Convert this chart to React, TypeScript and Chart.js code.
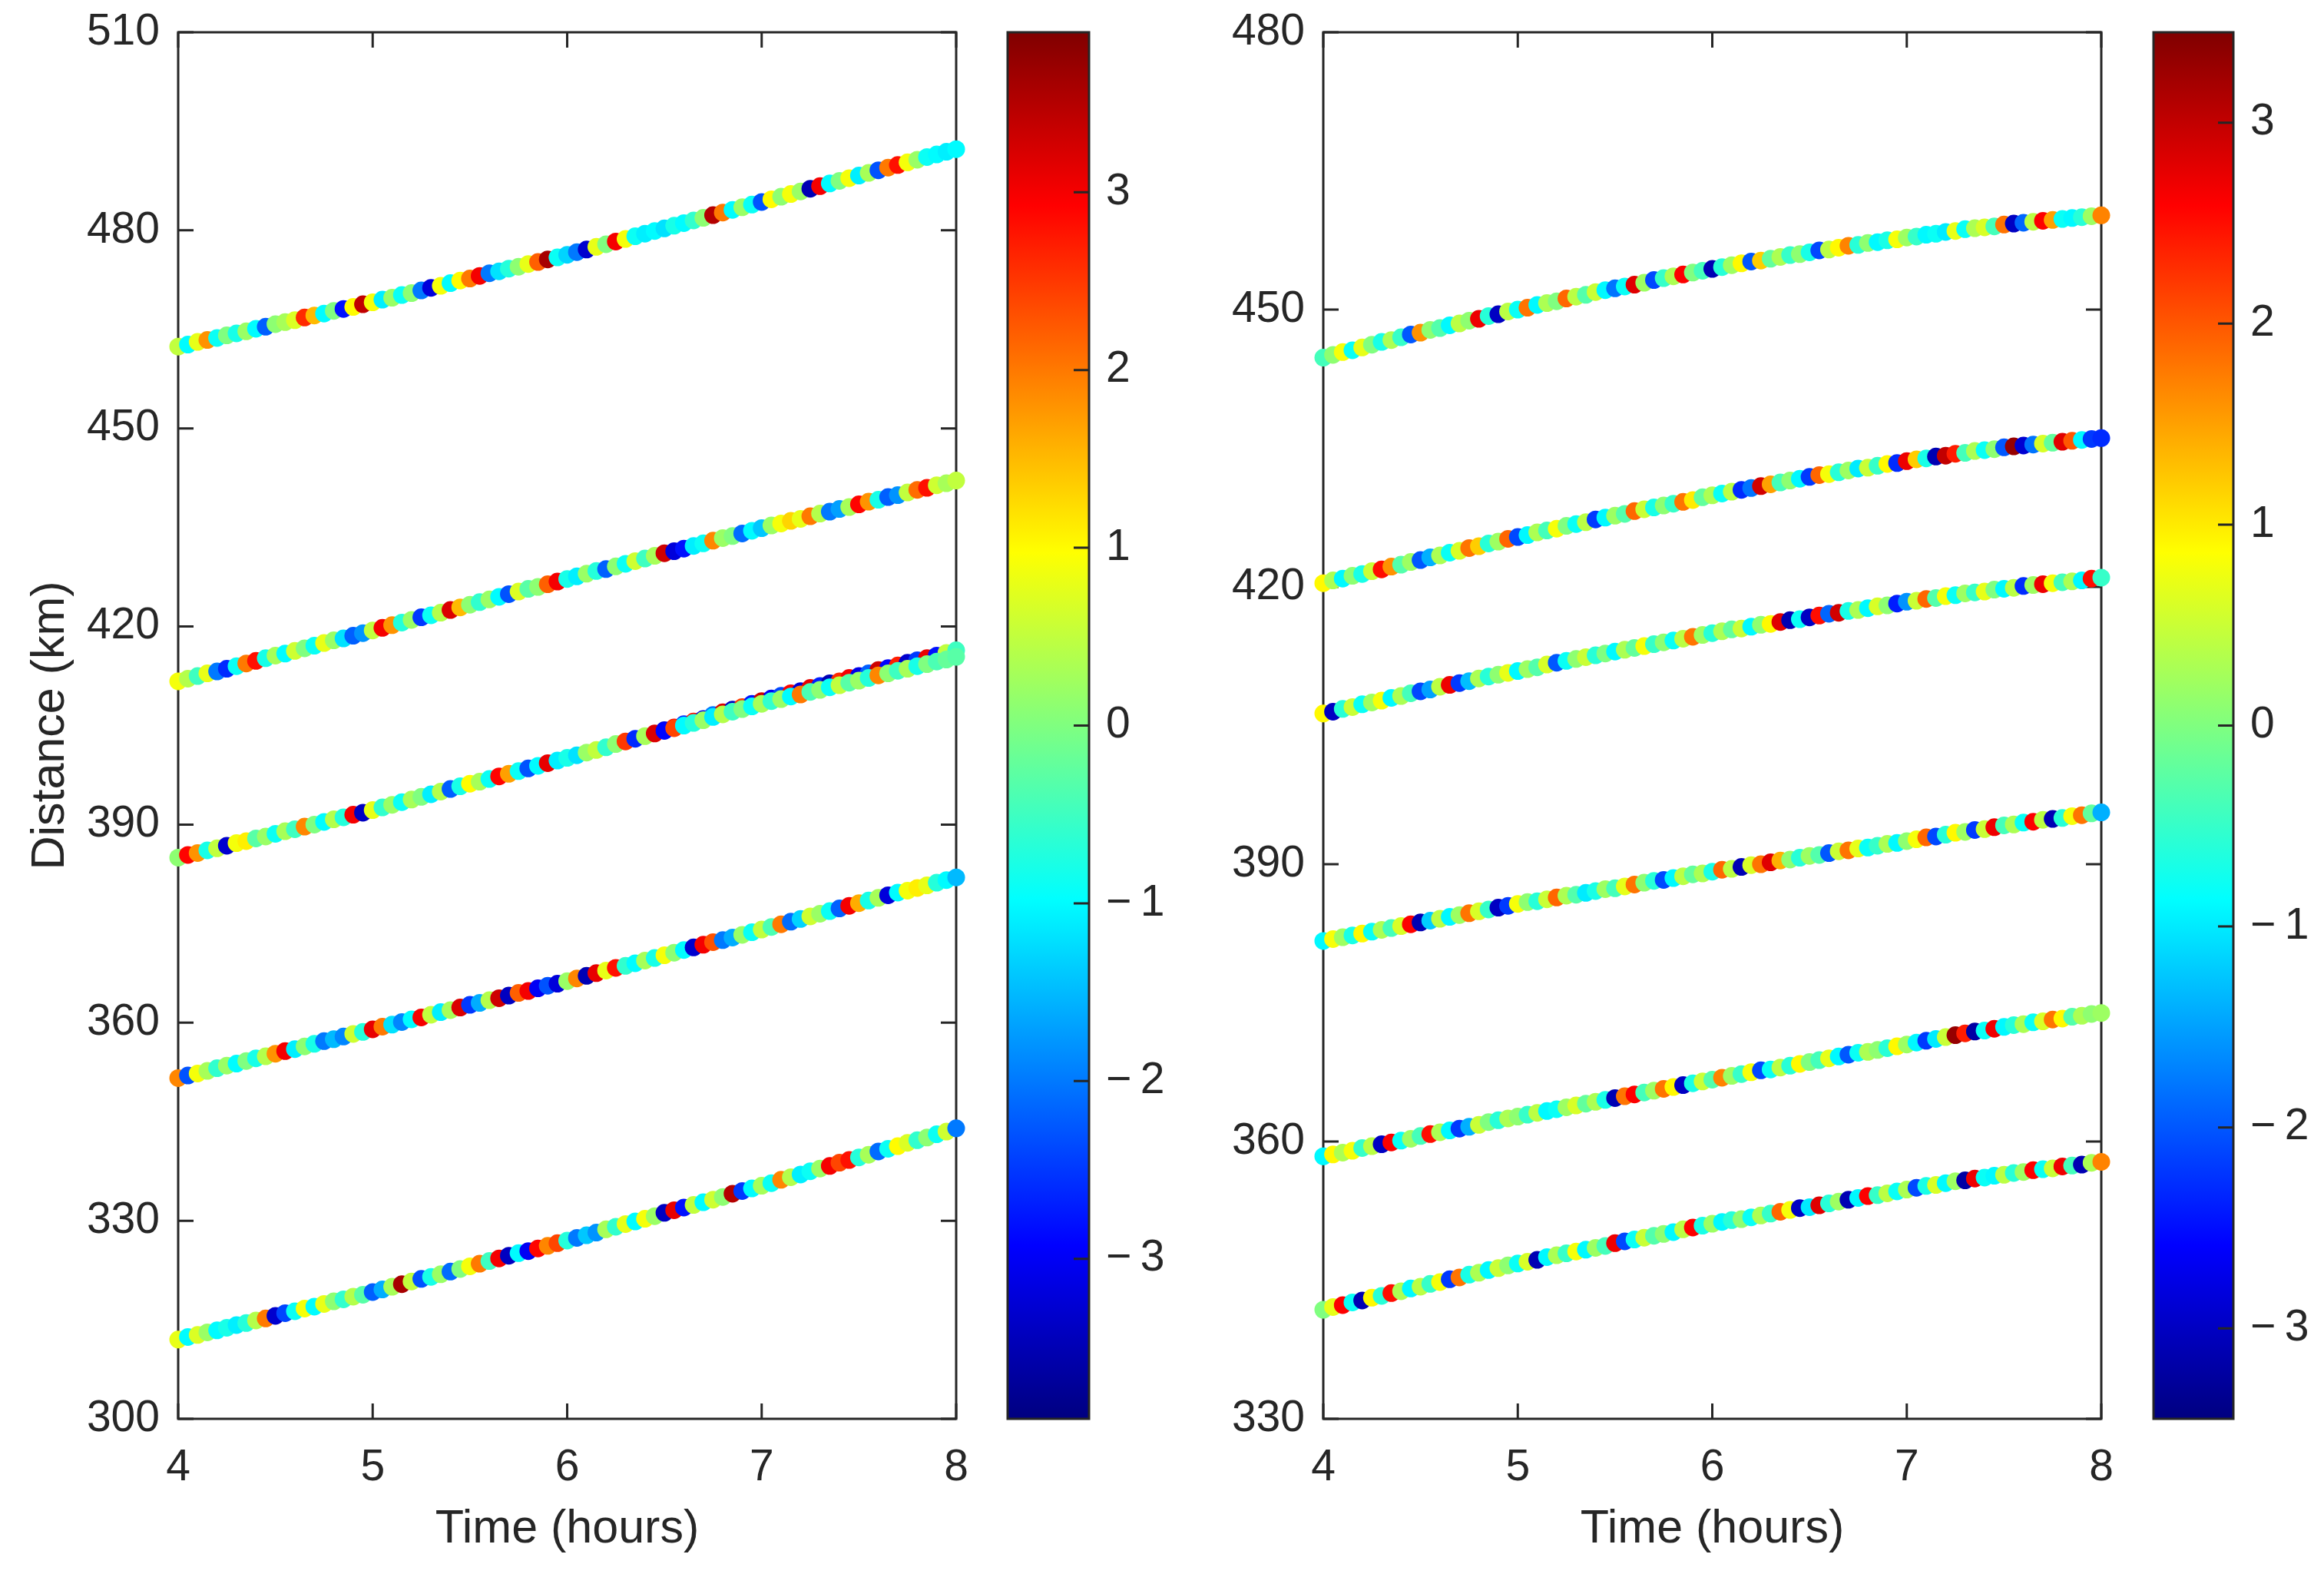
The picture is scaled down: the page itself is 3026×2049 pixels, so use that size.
import React, { useEffect, useRef } from 'react';
import { Chart, registerables } from 'chart.js';

Chart.register(...registerables);

const FONT = '"Liberation Sans", Arial, Helvetica, sans-serif';
const INK = '#262626';

// ---------- shared sample times (hours) ----------
const TIME = [4,4.05,4.1,4.15,4.2,4.25,4.3,4.35,4.4,4.45,4.5,4.55,4.6,4.65,4.7,4.75,4.8,4.85,4.9,4.95,
  5,5.05,5.1,5.15,5.2,5.25,5.3,5.35,5.4,5.45,5.5,5.55,5.6,5.65,5.7,5.75,5.8,5.85,5.9,5.95,
  6,6.05,6.1,6.15,6.2,6.25,6.3,6.35,6.4,6.45,6.5,6.55,6.6,6.65,6.7,6.75,6.8,6.85,6.9,6.95,
  7,7.05,7.1,7.15,7.2,7.25,7.3,7.35,7.4,7.45,7.5,7.55,7.6,7.65,7.7,7.75,7.8,7.85,7.9,7.95,8];

const X_TICKS = [4, 5, 6, 7, 8];
const LEFT_Y_TICKS = [300, 330, 360, 390, 420, 450, 480, 510];
const RIGHT_Y_TICKS = [330, 360, 390, 420, 450, 480];
const CB_TICKS = [-3, -2, -1, 0, 1, 2, 3];
const LEFT_CB_LIMIT = 3.9;
const RIGHT_CB_LIMIT = 3.45;

// ---------- left panel: distances (km) ----------
const A_DIST = [462.4,462.7,463.1,463.4,463.7,464.1,464.4,464.7,465.1,465.4,465.8,466.1,466.4,466.8,467.1,467.4,467.8,468.1,468.4,468.8,469.1,
  469.5,469.8,470.2,470.5,470.9,471.3,471.6,472.0,472.4,472.7,473.1,473.5,473.8,474.2,474.5,474.9,475.2,475.6,475.9,476.3,
  476.7,477.1,477.5,477.9,478.3,478.7,479.1,479.5,479.9,480.3,480.7,481.1,481.5,481.9,482.3,482.7,483.1,483.5,483.9,484.3,
  484.7,485.1,485.5,485.9,486.3,486.7,487.1,487.5,487.9,488.3,488.7,489.1,489.5,489.9,490.3,490.7,491.1,491.5,491.9,492.3];
const B_DIST = [411.7,412.1,412.5,412.9,413.2,413.6,414.0,414.4,414.8,415.2,415.6,415.9,416.3,416.7,417.1,417.5,417.9,418.2,418.6,419.0,419.4,
  419.8,420.2,420.6,421.0,421.4,421.7,422.1,422.5,422.9,423.3,423.7,424.1,424.5,424.9,425.3,425.7,426.0,426.4,426.8,427.2,
  427.6,428.0,428.4,428.7,429.1,429.5,429.9,430.3,430.7,431.1,431.4,431.8,432.2,432.6,433.0,433.4,433.7,434.1,434.5,434.9,
  435.3,435.6,436.0,436.3,436.7,437.1,437.4,437.8,438.1,438.5,438.9,439.2,439.6,439.9,440.3,440.7,441.0,441.4,441.7,442.1];
const C_DIST = [385.0,385.4,385.7,386.1,386.4,386.8,387.2,387.5,387.9,388.2,388.6,389.0,389.3,389.7,390.0,390.4,390.8,391.1,391.5,391.8,392.2,
  392.6,393.0,393.4,393.8,394.2,394.6,395.0,395.4,395.8,396.2,396.5,396.9,397.3,397.7,398.1,398.5,398.9,399.3,399.7,400.1,
  400.5,400.9,401.3,401.7,402.2,402.6,403.0,403.4,403.8,404.2,404.6,405.0,405.4,405.8,406.3,406.7,407.1,407.5,407.9,408.3,
  408.7,409.0,409.4,409.7,410.1,410.4,410.8,411.1,411.5,411.8,412.2,412.6,412.9,413.3,413.6,414.0,414.3,414.7,415.0,415.4];
const C2_TIME = TIME.slice(50);
const C2_DIST = [404.3,404.7,405.2,405.6,406.0,406.6,407.0,407.4,407.8,408.3,408.7,409.1,409.5,409.9,410.2,410.7,411.0,411.4,411.7,412.2,
  412.5,412.9,413.4,413.7,414.1,414.5,414.9,415.2,415.6,416.0,416.4];
const D_DIST = [351.6,352.0,352.3,352.7,353.1,353.5,353.8,354.2,354.6,354.9,355.3,355.7,356.0,356.4,356.8,357.2,357.5,357.9,358.3,358.6,359.0,
  359.4,359.7,360.1,360.5,360.8,361.2,361.6,361.9,362.3,362.7,363.0,363.4,363.7,364.1,364.5,364.8,365.2,365.6,365.9,366.3,
  366.7,367.1,367.5,367.9,368.3,368.6,369.0,369.4,369.8,370.2,370.6,371.0,371.4,371.8,372.2,372.5,372.9,373.3,373.7,374.1,
  374.5,374.9,375.3,375.7,376.1,376.5,376.9,377.3,377.7,378.1,378.5,378.9,379.3,379.7,380.0,380.4,380.8,381.2,381.6,382.0];
const E_DIST = [312.0,312.4,312.7,313.1,313.4,313.8,314.2,314.5,314.9,315.2,315.6,316.0,316.3,316.7,317.0,317.4,317.8,318.1,318.5,318.8,319.2,
  319.6,320.0,320.4,320.8,321.2,321.5,321.9,322.3,322.7,323.1,323.5,323.9,324.3,324.7,325.1,325.4,325.8,326.2,326.6,327.0,
  327.4,327.8,328.2,328.7,329.1,329.5,329.9,330.3,330.7,331.2,331.6,332.0,332.4,332.8,333.2,333.6,334.1,334.5,334.9,335.3,
  335.7,336.2,336.6,337.0,337.5,337.9,338.3,338.8,339.2,339.6,340.0,340.5,340.9,341.3,341.8,342.2,342.6,343.1,343.5,344.0];

// ---------- left panel: colour values ----------
const A_COL = [0.5,-1.0,0.8,1.8,-0.9,0.0,-0.8,0.2,-1.0,-2.2,
  0.1,0.3,0.7,2.6,1.5,-1.0,0.0,-2.8,1.0,3.4,
  0.9,-1.1,0.2,-0.9,0.1,-2.0,-3.2,0.9,-1.0,1.0,
  2.0,3.0,-2.0,-1.2,-0.7,0.1,0.8,2.2,3.6,-0.9,
  -1.3,-2.0,-3.3,0.8,0.0,3.0,0.9,-0.9,-1.1,-1.0,
  -1.2,-0.8,-1.0,-0.6,0.1,3.5,2.0,-1.0,0.2,-0.9,
  -2.3,1.0,0.1,0.9,0.2,-3.5,3.0,-1.0,0.0,0.9,
  -1.1,0.3,-2.3,2.0,2.8,0.9,0.2,-0.9,-1.0,-1.1,
  -1.0];
const B_COL = [0.9,0.4,-0.5,0.8,-2.0,-2.6,-0.9,2.0,2.8,-0.8,
  0.3,-1.0,0.6,0.0,-0.9,0.8,0.2,-1.2,-2.2,-1.8,
  0.5,3.0,1.8,-0.7,0.2,-2.5,-0.9,0.4,3.2,1.5,
  0.1,-0.6,0.2,-1.0,-2.3,0.7,-0.3,0.1,2.2,3.0,
  -0.8,-1.1,0.2,-0.7,-2.2,0.1,-0.9,0.6,-0.5,0.3,
  3.3,-3.2,-2.8,-1.1,-0.9,1.9,0.2,0.0,-2.1,-1.0,
  -1.4,0.2,0.9,1.3,0.8,2.0,0.4,-2.0,-1.7,0.3,
  2.9,1.8,-0.8,-2.2,-1.8,0.5,2.1,2.8,0.6,0.3,
  0.5];
const C_COL = [0.1,2.9,1.8,-0.8,0.5,-3.3,0.9,1.1,-0.3,0.2,
  -0.9,0.3,-0.5,1.9,0.0,-1.0,0.4,-0.7,3.0,-3.4,
  0.8,-0.6,0.2,-0.9,0.3,0.0,-1.1,0.4,-2.2,-0.8,
  1.0,0.3,-0.9,2.9,1.7,-0.9,-2.3,-1.0,3.1,-1.1,
  -0.8,-1.2,0.2,0.5,-0.6,0.1,2.5,-2.6,0.3,3.2,
  -2.9,2.4,-1.0,-0.7,0.2,-1.1,0.4,-0.5,0.0,-0.9,
  0.3,-0.6,0.2,-1.0,2.0,-0.4,0.1,-0.9,0.5,-0.3,
  0.2,-0.7,1.9,0.1,-0.5,0.3,-0.8,0.0,-0.4,-0.2,
  -0.3];
const C2_COL = [-3.3,3.0,-2.6,2.8,-3.1,-2.0,3.2,-3.4,2.5,-2.8,
  3.3,-3.0,-2.4,2.9,-3.2,3.1,-2.7,-3.5,2.6,3.0,
  -3.1,-2.2,3.3,-2.9,2.7,-3.3,-2.5,3.1,-2.8,0.5,
  -0.5];
const D_COL = [1.9,-2.3,0.9,0.3,-0.6,0.2,-1.0,0.0,-0.8,0.4,
  1.8,3.0,-1.1,0.1,-0.8,-2.0,-1.5,-1.9,0.6,-0.7,
  3.1,2.0,-1.2,-1.9,-1.0,3.0,0.5,-1.1,0.3,3.2,
  -2.5,-1.6,0.4,3.3,-3.4,2.2,3.0,-3.0,-2.3,-3.2,
  0.2,1.9,-3.5,3.1,0.8,2.8,-0.6,-1.0,0.3,-0.8,
  0.9,0.1,-1.0,-3.3,3.0,2.3,-2.0,-1.6,0.2,-0.9,
  0.5,-0.4,2.0,-2.1,-1.3,0.6,0.2,-0.9,-2.2,3.0,
  1.6,-0.8,0.3,-3.2,-1.0,0.9,1.1,0.8,-0.7,-1.0,
  -1.5];
const E_COL = [0.8,-1.0,0.7,0.2,-1.0,-0.8,-1.1,-0.7,0.4,2.0,
  -3.3,-2.4,-0.9,0.9,-1.0,0.8,0.1,-0.6,0.4,-0.3,
  -2.2,-1.6,0.3,3.6,0.5,-2.3,-0.8,0.2,-2.1,0.0,
  0.9,2.0,-0.5,3.0,-3.4,-1.0,-3.0,2.9,1.9,2.4,
  -0.7,-2.0,-1.4,-1.8,0.3,-0.6,0.8,-1.0,0.9,0.2,
  -3.4,3.1,-2.8,0.5,-1.0,0.6,0.1,3.5,-2.5,-1.0,
  0.3,-0.9,1.9,0.4,-1.1,-0.9,0.2,3.0,2.4,2.8,
  -0.7,0.3,-2.1,-0.9,1.0,0.7,-0.6,0.1,-0.9,0.6,
  -2.0];

// ---------- right panel: distances (km) ----------
const R1_DIST = [444.8,445.1,445.4,445.6,445.9,446.2,446.5,446.7,447.0,447.3,447.5,447.8,448.0,448.3,448.5,448.8,449.0,449.3,449.5,449.8,450.0,
  450.2,450.5,450.7,450.9,451.2,451.4,451.6,451.9,452.1,452.3,452.5,452.7,452.9,453.2,453.4,453.6,453.8,454.0,454.2,454.4,
  454.6,454.8,455.0,455.2,455.3,455.5,455.7,455.9,456.0,456.2,456.4,456.5,456.7,456.9,457.0,457.2,457.3,457.5,457.6,457.8,
  457.9,458.1,458.2,458.4,458.5,458.7,458.8,458.9,459.0,459.2,459.3,459.4,459.5,459.6,459.7,459.8,459.9,460.0,460.1,460.2];
const R2_DIST = [420.4,420.7,420.9,421.2,421.4,421.7,421.9,422.2,422.4,422.7,422.9,423.2,423.4,423.7,423.9,424.2,424.4,424.7,424.9,425.2,425.4,
  425.6,425.9,426.1,426.3,426.6,426.8,427.0,427.3,427.5,427.7,427.9,428.2,428.4,428.6,428.8,429.0,429.2,429.4,429.7,429.9,
  430.1,430.3,430.5,430.7,430.9,431.1,431.3,431.5,431.7,431.9,432.1,432.2,432.4,432.6,432.8,432.9,433.1,433.3,433.4,433.6,
  433.8,433.9,434.1,434.2,434.4,434.5,434.7,434.8,434.9,435.1,435.2,435.3,435.4,435.5,435.6,435.7,435.8,435.9,436.0,436.1];
const R3_DIST = [406.3,406.5,406.8,407.0,407.3,407.5,407.7,408.0,408.2,408.5,408.7,408.9,409.2,409.4,409.6,409.8,410.1,410.3,410.5,410.7,410.9,
  411.1,411.3,411.6,411.8,412.0,412.2,412.4,412.6,412.8,413.0,413.2,413.4,413.6,413.8,414.0,414.2,414.4,414.6,414.8,415.0,
  415.2,415.4,415.5,415.7,415.9,416.0,416.2,416.4,416.5,416.7,416.9,417.1,417.2,417.4,417.5,417.7,417.9,418.0,418.2,418.4,
  418.5,418.7,418.8,419.0,419.1,419.3,419.4,419.5,419.7,419.8,419.9,420.1,420.2,420.3,420.4,420.5,420.6,420.7,420.9,421.0];
const R4_DIST = [381.7,381.9,382.1,382.3,382.5,382.7,382.9,383.1,383.3,383.5,383.7,383.9,384.1,384.3,384.5,384.7,384.9,385.1,385.3,385.5,385.7,
  385.9,386.0,386.2,386.4,386.6,386.7,386.9,387.1,387.3,387.4,387.6,387.8,388.0,388.2,388.3,388.5,388.7,388.9,389.0,389.2,
  389.4,389.5,389.7,389.9,390.0,390.2,390.4,390.5,390.7,390.9,391.0,391.2,391.4,391.5,391.7,391.8,392.0,392.2,392.3,392.5,
  392.7,392.9,393.0,393.2,393.4,393.5,393.7,393.8,394.0,394.2,394.3,394.5,394.6,394.8,394.9,395.0,395.2,395.3,395.5,395.6];
const R5_DIST = [358.4,358.6,358.8,359.0,359.3,359.5,359.7,359.9,360.1,360.3,360.6,360.8,361.0,361.2,361.4,361.6,361.8,362.1,362.3,362.5,362.7,
  362.9,363.1,363.3,363.5,363.7,363.9,364.1,364.3,364.5,364.7,364.9,365.1,365.3,365.5,365.7,365.9,366.1,366.3,366.5,366.7,
  366.9,367.1,367.3,367.5,367.7,367.8,368.0,368.2,368.4,368.6,368.8,369.0,369.2,369.4,369.6,369.7,369.9,370.1,370.3,370.5,
  370.7,370.9,371.1,371.3,371.5,371.7,371.9,372.0,372.2,372.4,372.6,372.7,372.9,373.0,373.2,373.3,373.5,373.6,373.8,373.9];
const R6_DIST = [341.8,342.1,342.3,342.6,342.8,343.1,343.3,343.6,343.8,344.1,344.3,344.6,344.8,345.1,345.3,345.6,345.8,346.1,346.3,346.6,346.8,
  347.0,347.2,347.5,347.7,347.9,348.1,348.3,348.5,348.7,349.0,349.2,349.4,349.6,349.8,350.0,350.2,350.5,350.7,350.9,351.1,
  351.3,351.5,351.6,351.8,352.0,352.2,352.4,352.6,352.8,352.9,353.1,353.3,353.5,353.7,353.9,354.1,354.2,354.4,354.6,354.8,
  355.0,355.2,355.3,355.5,355.7,355.8,356.0,356.1,356.3,356.4,356.6,356.7,356.9,357.0,357.1,357.3,357.4,357.5,357.7,357.8];

// ---------- right panel: colour values ----------
const R1_COL = [-0.4,0.1,0.8,-0.8,0.7,0.0,-0.7,0.3,-0.5,-2.0,
  1.6,0.1,-0.3,-0.9,0.4,0.1,2.7,-0.6,-3.0,0.4,
  -0.8,1.8,-0.9,0.3,0.0,1.9,0.4,-0.3,0.5,-0.9,
  -1.8,-0.8,2.8,0.2,-2.1,-0.5,0.3,2.6,0.0,-0.4,
  -3.1,-0.6,0.2,0.9,-2.0,1.2,-0.2,0.3,-0.5,0.1,
  -0.7,-2.1,0.4,0.9,1.7,-0.6,0.1,-0.9,-0.7,0.8,
  0.2,-0.5,-0.9,-0.8,-1.0,0.7,-0.8,0.3,0.6,-0.4,
  1.8,-3.0,-1.9,0.4,2.6,1.5,-0.8,-0.9,-0.6,0.2,
  1.7];
const R2_COL = [0.9,0.3,-0.9,0.1,-0.7,0.5,2.5,1.6,-0.3,0.2,
  -2.0,-1.4,0.3,-0.8,0.6,1.8,1.2,-0.6,0.2,1.9,
  -2.1,-0.9,0.3,-0.4,0.8,0.0,-0.8,0.4,-2.2,-0.9,
  0.2,-0.3,1.9,0.5,-0.7,0.1,-0.5,1.8,1.0,-0.2,
  0.3,-0.8,0.4,-2.3,-1.8,2.9,1.5,-0.4,0.1,-0.9,
  -2.2,1.9,0.8,-0.6,0.2,-1.0,0.5,-0.5,0.9,-2.3,
  2.7,1.2,-0.7,-3.1,3.0,2.4,-0.4,0.3,-0.8,0.1,
  -2.0,3.3,-2.9,-1.8,0.6,-0.2,2.8,2.0,-0.9,-2.2,
  -2.3];
const R3_COL = [0.9,-3.0,-0.6,0.5,-0.8,0.2,0.8,-0.9,0.3,-0.4,
  -2.1,-1.5,0.4,2.7,-2.2,-1.3,0.3,-0.6,0.1,0.7,
  -0.9,0.2,-0.3,0.6,-2.0,-0.8,0.1,0.5,-0.6,0.0,
  -0.9,0.3,-0.2,0.8,-0.5,0.1,-0.8,0.4,1.8,0.2,
  -0.6,0.3,-0.2,0.5,-0.9,0.1,0.9,2.8,-3.1,-0.8,
  -3.0,2.5,-1.9,2.9,-0.7,0.3,-0.9,0.6,0.1,-2.4,
  -1.6,0.5,1.9,-0.3,0.8,-0.8,0.2,-0.5,0.7,0.0,
  -0.9,0.4,-2.3,0.2,2.7,0.8,-0.4,0.3,-0.9,2.5,
  -0.5];
const R4_COL = [-0.9,0.8,0.2,-0.7,0.9,-0.8,0.3,-0.4,0.6,2.6,
  -3.1,-1.2,0.4,-0.9,0.2,1.8,0.6,-0.5,-3.0,-2.2,
  0.8,0.1,-0.6,0.5,1.9,0.3,-0.3,-1.0,-0.7,0.2,
  -0.4,0.7,1.8,0.1,-0.6,-2.1,-0.9,0.4,-0.2,0.3,
  -0.7,1.9,0.4,-3.1,0.6,1.8,2.8,1.4,0.1,-0.6,
  0.2,-0.3,-2.0,0.5,1.8,0.7,-0.8,-0.5,0.3,-0.9,
  0.1,0.8,1.9,-2.1,-0.6,0.9,0.2,-2.2,0.5,2.7,
  -0.4,0.3,-0.8,2.6,0.4,-3.1,-0.6,0.8,1.8,-0.2,
  -1.4];
const R5_COL = [-0.9,0.9,0.3,0.8,-0.5,0.4,-3.0,2.6,-0.8,0.2,
  -0.4,2.5,0.3,-0.9,-2.2,-1.4,0.5,0.0,-0.6,0.3,
  0.1,-0.5,0.4,-0.9,-0.8,0.2,0.6,-0.2,0.3,-0.7,
  -3.1,1.8,2.6,-0.4,0.2,1.8,0.9,-3.0,-0.7,0.5,
  -0.3,1.7,0.2,-0.5,0.8,-2.1,-0.8,0.4,-0.6,0.9,
  0.0,-0.4,0.7,-0.9,-2.0,-0.8,0.3,0.1,-0.6,0.9,
  0.2,-0.9,-2.2,-1.0,0.5,3.3,2.4,-3.2,-0.8,2.7,
  -0.9,-0.6,0.3,-0.8,0.6,1.8,0.9,-0.3,0.3,0.1,
  0.2];
const R6_COL = [0.0,0.7,2.6,-0.8,-3.1,0.9,-0.6,2.5,0.3,-0.9,
  0.4,-0.5,0.8,-2.2,1.8,-0.7,0.3,-0.9,0.5,0.1,
  -0.8,0.6,-3.1,-0.9,0.3,-0.5,0.8,-0.9,0.2,-0.4,
  2.7,-2.1,-0.8,0.5,-0.3,0.1,-0.9,0.4,2.6,-0.7,
  0.2,-0.9,-0.6,0.1,-0.8,0.3,-0.5,1.9,0.8,-3.0,
  -1.0,2.8,-0.6,0.2,-3.1,-0.9,2.6,-0.5,0.4,-0.8,
  0.3,-2.1,-0.7,0.6,-0.9,0.2,-3.2,2.7,-0.8,-0.9,
  0.4,-0.6,0.2,2.6,-0.8,0.5,2.7,-0.4,-3.1,0.3,
  1.7];

type Line = { t: number[]; d: number[]; c: number[]; order?: number };

const LEFT_LINES: Line[] = [
  { t: TIME, d: A_DIST, c: A_COL },
  { t: TIME, d: B_DIST, c: B_COL },
  { t: C2_TIME, d: C2_DIST, c: C2_COL, order: 1 },
  { t: TIME, d: C_DIST, c: C_COL },
  { t: TIME, d: D_DIST, c: D_COL },
  { t: TIME, d: E_DIST, c: E_COL },
];
const RIGHT_LINES: Line[] = [
  { t: TIME, d: R1_DIST, c: R1_COL },
  { t: TIME, d: R2_DIST, c: R2_COL },
  { t: TIME, d: R3_DIST, c: R3_COL },
  { t: TIME, d: R4_DIST, c: R4_COL },
  { t: TIME, d: R5_DIST, c: R5_COL },
  { t: TIME, d: R6_DIST, c: R6_COL },
];

// ---------- jet colormap ----------
const clamp01 = (v: number) => Math.max(0, Math.min(1, v));
function jet(t: number): [number, number, number] {
  t = clamp01(t);
  const r = clamp01(1.5 - Math.abs(4 * t - 3));
  const g = clamp01(1.5 - Math.abs(4 * t - 2));
  const b = clamp01(1.5 - Math.abs(4 * t - 1));
  return [r, g, b];
}
function jetColor(v: number, lim: number): string {
  const [r, g, b] = jet((v + lim) / (2 * lim));
  return `rgb(${Math.round(r * 255)},${Math.round(g * 255)},${Math.round(b * 255)})`;
}

const tickFont = { family: FONT, size: 57 };
const titleFont = { family: FONT, size: 61 };
const TICK_LEN = 20;

const boxPlugin = {
  id: 'matlabBox',
  beforeDatasetsDraw(chart: any) {
    const { ctx, chartArea } = chart;
    const { left, right, top, bottom } = chartArea;
    const xs = chart.scales.x;
    const ys = chart.scales.y;
    ctx.save();
    ctx.strokeStyle = INK;
    ctx.lineWidth = 3;
    ctx.beginPath();
    for (const t of xs.ticks) {
      const px = xs.getPixelForValue(t.value);
      ctx.moveTo(px, bottom); ctx.lineTo(px, bottom - TICK_LEN);
      ctx.moveTo(px, top); ctx.lineTo(px, top + TICK_LEN);
    }
    for (const t of ys.ticks) {
      const py = ys.getPixelForValue(t.value);
      ctx.moveTo(left, py); ctx.lineTo(left + TICK_LEN, py);
      ctx.moveTo(right, py); ctx.lineTo(right - TICK_LEN, py);
    }
    ctx.stroke();
    ctx.strokeRect(left, top, right - left, bottom - top);
    ctx.restore();
  },
};

const cbPlugin = {
  id: 'cbBox',
  afterDatasetsDraw(chart: any) {
    const { ctx, chartArea } = chart;
    const { left, right, top, bottom } = chartArea;
    const ys = chart.scales.y;
    ctx.save();
    ctx.strokeStyle = INK;
    ctx.lineWidth = 3;
    ctx.beginPath();
    for (const t of ys.ticks) {
      const py = ys.getPixelForValue(t.value);
      ctx.moveTo(right, py); ctx.lineTo(right - TICK_LEN, py);
    }
    ctx.stroke();
    ctx.strokeRect(left, top, right - left, bottom - top);
    ctx.restore();
  },
};

// keep tick-label overhang from shifting the plotting box
const noPadY = (s: any, w: number) => { s.width = w; s.paddingTop = 0; s.paddingBottom = 0; };
const noPadX = (s: any, h: number) => { s.height = h; s.paddingLeft = 0; s.paddingRight = 0; };

function panelConfig(lines: Line[], yMin: number, yMax: number, yTicks: number[], lim: number,
  yTitle: string | null, yAxisWidth: number, padRight: number): any {
  return {
    type: 'scatter',
    data: {
      datasets: lines.map((l) => ({
        data: l.t.map((t, i) => ({ x: t, y: l.d[i] })),
        pointBackgroundColor: l.c.map((v) => jetColor(v, lim)),
        pointBorderWidth: 0,
        pointRadius: 11.5,
        pointHoverRadius: 11.5,
        showLine: false,
        clip: false,
        order: l.order ?? 0,
      })),
    },
    options: {
      responsive: false,
      animation: false,
      devicePixelRatio: 1,
      events: [],
      layout: { padding: { top: 42, right: padRight, left: 0, bottom: 0 } },
      plugins: { legend: { display: false }, tooltip: { enabled: false } },
      scales: {
        x: {
          type: 'linear', min: 4, max: 8,
          afterBuildTicks: (s: any) => { s.ticks = X_TICKS.map((v) => ({ value: v })); },
          afterFit: (s: any) => noPadX(s, 202),
          grid: { display: false, drawTicks: false },
          border: { display: false },
          ticks: { font: tickFont, color: INK, padding: 30, maxRotation: 0, autoSkip: false },
          title: { display: true, text: 'Time (hours)', font: titleFont, color: INK, padding: { top: 0, bottom: 21 } },
        },
        y: {
          type: 'linear', min: yMin, max: yMax,
          afterBuildTicks: (s: any) => { s.ticks = yTicks.map((v) => ({ value: v })); },
          afterFit: (s: any) => noPadY(s, yAxisWidth),
          grid: { display: false, drawTicks: false },
          border: { display: false },
          ticks: { font: tickFont, color: INK, padding: 24, autoSkip: false },
          title: yTitle
            ? { display: true, text: yTitle, font: titleFont, color: INK, padding: { top: 30, bottom: 0 } }
            : { display: false },
        },
      },
    },
    plugins: [boxPlugin],
  };
}

function colorbarConfig(lim: number, padLeft: number, axisWidth: number): any {
  return {
    type: 'bar',
    data: {
      labels: ['cb'],
      datasets: [{
        data: [[-lim, lim]],
        backgroundColor: (c: any) => {
          const ch = c.chart;
          if (!ch.chartArea) return 'rgba(0,0,0,0)';
          const ys = ch.scales.y;
          const g = ch.ctx.createLinearGradient(0, ys.getPixelForValue(-lim), 0, ys.getPixelForValue(lim));
          const stops: [number, string][] = [
            [0, 'rgb(0,0,128)'], [0.125, 'rgb(0,0,255)'], [0.375, 'rgb(0,255,255)'],
            [0.625, 'rgb(255,255,0)'], [0.875, 'rgb(255,0,0)'], [1, 'rgb(128,0,0)'],
          ];
          stops.forEach(([o, col]) => g.addColorStop(o, col));
          return g;
        },
        borderWidth: 0,
        barPercentage: 1,
        categoryPercentage: 1,
      }],
    },
    options: {
      responsive: false,
      animation: false,
      devicePixelRatio: 1,
      events: [],
      layout: { padding: { top: 42, bottom: 202, left: padLeft, right: 0 } },
      plugins: { legend: { display: false }, tooltip: { enabled: false } },
      scales: {
        x: { display: false, offset: true },
        y: {
          position: 'right', min: -lim, max: lim,
          afterBuildTicks: (s: any) => { s.ticks = CB_TICKS.map((v) => ({ value: v })); },
          afterFit: (s: any) => noPadY(s, axisWidth),
          grid: { display: false, drawTicks: false },
          border: { display: false },
          ticks: {
            font: tickFont, color: INK, padding: 22, autoSkip: false,
            callback: (v: number) => (v < 0 ? '\u2212\u2009' + Math.abs(v) : String(v)),
          },
        },
      },
    },
    plugins: [cbPlugin],
  };
}

export default function App() {
  const leftRef = useRef<HTMLCanvasElement>(null);
  const cb1Ref = useRef<HTMLCanvasElement>(null);
  const rightRef = useRef<HTMLCanvasElement>(null);
  const cb2Ref = useRef<HTMLCanvasElement>(null);

  useEffect(() => {
    document.body.style.margin = '0';
    document.body.style.background = '#ffffff';
    const charts = [
      new Chart(leftRef.current!, panelConfig(LEFT_LINES, 300, 510, LEFT_Y_TICKS, LEFT_CB_LIMIT, 'Distance (km)', 232, 45)),
      new Chart(cb1Ref.current!, colorbarConfig(LEFT_CB_LIMIT, 22, 142)),
      new Chart(rightRef.current!, panelConfig(RIGHT_LINES, 330, 480, RIGHT_Y_TICKS, RIGHT_CB_LIMIT, null, 163, 34)),
      new Chart(cb2Ref.current!, colorbarConfig(RIGHT_CB_LIMIT, 34, 118)),
    ];
    return () => charts.forEach((c) => c.destroy());
  }, []);

  const abs = (left: number): React.CSSProperties => ({ position: 'absolute', left, top: 0 });
  return (
    <div style={{ position: 'relative', width: 3026, height: 2049, background: '#ffffff', overflow: 'hidden' }}>
      <canvas ref={leftRef} width={1290} height={2049} style={abs(0)} />
      <canvas ref={cb1Ref} width={270} height={2049} style={abs(1290)} />
      <canvas ref={rightRef} width={1210} height={2049} style={abs(1560)} />
      <canvas ref={cb2Ref} width={256} height={2049} style={abs(2770)} />
    </div>
  );
}
